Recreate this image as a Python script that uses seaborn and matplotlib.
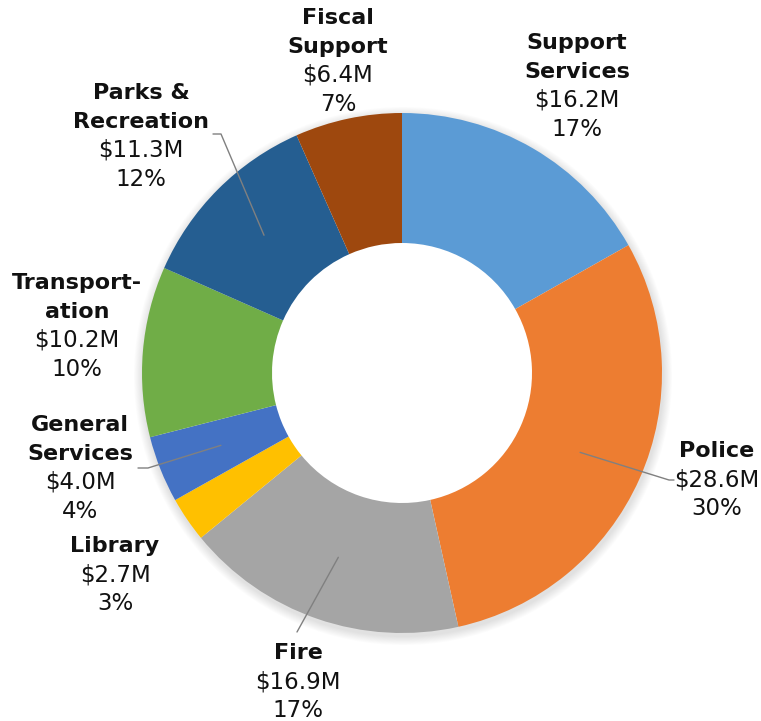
import numpy as np
import matplotlib
matplotlib.use("Agg")
import matplotlib.pyplot as plt
from matplotlib.patches import Wedge
import seaborn as sns

# Budget by department, $ millions, clockwise from 12 o'clock
categories = ["Support Services", "Police", "Fire", "Library", "General Services",
              "Transportation", "Parks & Recreation", "Fiscal Support"]
amounts = [16.2, 28.6, 16.9, 2.7, 4.0, 10.2, 11.3, 6.4]
percents = [17, 30, 17, 3, 4, 10, 12, 7]
name_lines = [["Support", "Services"], ["Police"], ["Fire"], ["Library"],
              ["General", "Services"], ["Transport-", "ation"],
              ["Parks &", "Recreation"], ["Fiscal", "Support"]]
colors = ["#5B9BD5", "#ED7D31", "#A5A5A5", "#FFC000", "#4472C4",
          "#70AD47", "#255E91", "#9E480E"]

sns.set_theme(style="white")
plt.rcParams["font.family"] = ["DejaVu Sans"]
palette = sns.color_palette(colors)

W, H = 761, 721
fig = plt.figure(figsize=(W / 100, H / 100), dpi=100)
ax = fig.add_axes([0, 0, 1, 1])


def py(y):
    """Convert a top-down pixel row to axis y."""
    return H - y


cx, cy = 402, py(373)
R, ring = 260, 130

# soft drop shadow just outside the ring
for i in range(10):
    rr = R + 1 + i * 0.9
    ax.add_patch(Wedge((cx + 1, cy - 3), rr, 0, 360, width=rr - (R - 8),
                       color="black", alpha=0.012, lw=0, zorder=0))

wedges, _ = ax.pie(amounts, colors=palette, startangle=90, counterclock=False,
                   radius=R, center=(cx, cy),
                   wedgeprops=dict(width=ring, linewidth=0, zorder=1))

ax.set_xlim(0, W)
ax.set_ylim(0, H)
ax.set_aspect("equal")
ax.axis("off")

# label placement (x centre, first line row) and leader-line path
label_pos = {
    "Support Services": (577, 43),
    "Police": (717, 451),
    "Fire": (298, 653),
    "Library": (115, 546),
    "General Services": (80, 425),
    "Transportation": (77, 283),
    "Parks & Recreation": (141, 93),
    "Fiscal Support": (338, 18),
}
leaders = {
    "Police": [(669, 480), (674, 480)],
    "Fire": [(297, 632)],
    "General Services": [(148, 468), (138, 468)],
    "Parks & Recreation": [(221, 134), (213, 134)],
}
step = 28.7

for w, cat, amt, pct, names in zip(wedges, categories, amounts, percents, name_lines):
    x0, y0 = label_pos[cat]
    rows = [(n, "bold", 16) for n in names] + [(f"${amt:.1f}M", "normal", 16.5),
                                                (f"{pct}%", "normal", 16.5)]
    for k, (txt, wt, fs) in enumerate(rows):
        ax.text(x0, py(y0 + k * step), txt, ha="center", va="center",
                fontsize=fs, fontweight=wt, color="#111111", zorder=5)
    if cat in leaders:
        mid = np.deg2rad((w.theta1 + w.theta2) / 2)
        rm = R - ring / 2
        xs = [cx + rm * np.cos(mid)] + [p[0] for p in leaders[cat]]
        ys = [cy + rm * np.sin(mid)] + [py(p[1]) for p in leaders[cat]]
        ax.plot(xs, ys, color="#808080", lw=1.0, zorder=4)

fig.savefig("out.png", dpi=100, facecolor="white")
